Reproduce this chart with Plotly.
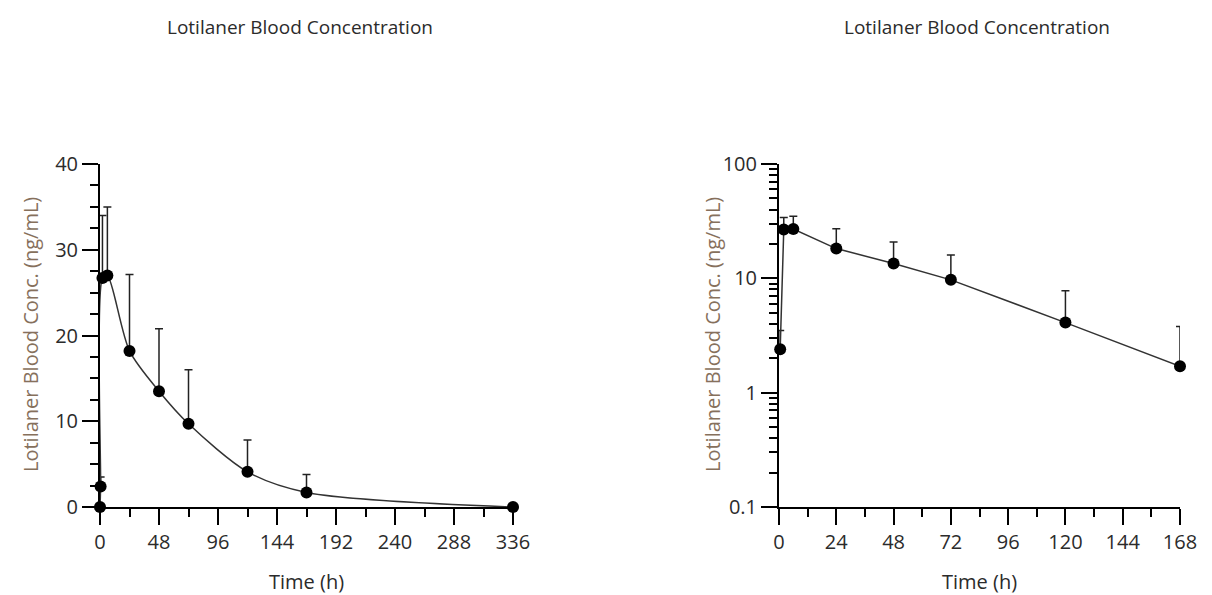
import plotly.graph_objects as go

# Data
time_h = [0, 0.5, 2, 6, 24, 48, 72, 120, 168, 336]
mean_conc = [0, 2.4, 26.7, 27.0, 18.2, 13.5, 9.7, 4.1, 1.7, 0]
sd_conc = [0, 1.1, 7.3, 8.0, 8.9, 7.3, 6.3, 3.7, 2.1, 0]

title_text = "Lotilaner Blood Concentration"
ytitle_text = "Lotilaner Blood Conc. (ng/mL)"
xtitle_text = "Time (h)"
left_xticks = [0, 48, 96, 144, 192, 240, 288, 336]
right_xticks = [0, 24, 48, 72, 96, 120, 144, 168]
log_yticks = [0.1, 1, 10, 100]
log_yticklabels = ["0.1", "1", "10", "100"]

FONT = "Open Sans"
TXT = "#2b2b2b"
YT = "#86705c"

# right-plot subset (log scale, 0-168 h, positive values)
r_t, r_m, r_s = [], [], []
for t, m, s in zip(time_h, mean_conc, sd_conc):
    if t <= 168 and m > 0:
        r_t.append(t); r_m.append(m); r_s.append(s)

fig = go.Figure()
fig.add_trace(go.Scatter(
    x=time_h, y=mean_conc, mode="lines+markers",
    line=dict(color="#333333", width=1.5, shape="spline", smoothing=0.8),
    marker=dict(color="black", size=12),
    error_y=dict(type="data", array=sd_conc, arrayminus=[0]*len(sd_conc),
                 symmetric=False, color="#222222", thickness=1.5, width=4),
    cliponaxis=False, xaxis="x", yaxis="y", showlegend=False))
fig.add_trace(go.Scatter(
    x=r_t, y=r_m, mode="lines+markers",
    line=dict(color="#333333", width=1.5),
    marker=dict(color="black", size=12),
    error_y=dict(type="data", array=r_s, arrayminus=[0]*len(r_s),
                 symmetric=False, color="#222222", thickness=1.5, width=4),
    cliponaxis=False, xaxis="x2", yaxis="y2", showlegend=False))

axis_common = dict(showline=True, linecolor="black", linewidth=2, showgrid=False,
                   zeroline=False, ticks="outside", tickcolor="black", tickwidth=1.5,
                   ticklen=16, automargin=False,
                   tickfont=dict(family=FONT, size=20, color=TXT))

ydom = [88/595, 431/595]
fig.update_layout(
    template="none",
    width=1212, height=595, margin=dict(l=0, r=0, t=0, b=0, pad=0, autoexpand=False),
    plot_bgcolor="white", paper_bgcolor="white",
    xaxis=dict(domain=[100/1212, 513/1212], range=[0, 336], tickvals=left_xticks,
               anchor="y", minor=dict(ticks="outside", dtick=24, tick0=0, ticklen=8,
                                      tickcolor="black", tickwidth=1.5),
               **axis_common),
    yaxis=dict(domain=ydom, range=[0, 40], dtick=10, tick0=0, anchor="x",
               minor=dict(ticks="outside", dtick=2.5, tick0=0, ticklen=8,
                          tickcolor="black", tickwidth=1.5),
               **axis_common),
    xaxis2=dict(domain=[779/1212, 1180/1212], range=[0, 168], tickvals=right_xticks,
                anchor="y2", minor=dict(ticks="outside", dtick=12, tick0=0, ticklen=8,
                                        tickcolor="black", tickwidth=1.5),
                **axis_common),
    yaxis2=dict(domain=ydom, type="log", range=[-1, 2], tickvals=log_yticks,
                ticktext=log_yticklabels, anchor="x2",
                minor=dict(ticks="outside", dtick="D1", ticklen=8,
                           tickcolor="black", tickwidth=1.5),
                **axis_common),
)

ann = []
for cx, ycx, xcx in [(300/1212, 30/1212, 306/1212), (977/1212, 712/1212, 979/1212)]:
    ann.append(dict(text=title_text, x=cx, y=1-27/595, xref="paper", yref="paper",
                    showarrow=False, xanchor="center", yanchor="middle",
                    font=dict(family=FONT, size=19, color=TXT)))
    ann.append(dict(text=ytitle_text, x=ycx, y=1-335/595, xref="paper", yref="paper",
                    showarrow=False, xanchor="center", yanchor="middle", textangle=-90,
                    font=dict(family=FONT, size=20, color=YT)))
    ann.append(dict(text=xtitle_text, x=xcx, y=1-581/595, xref="paper", yref="paper",
                    showarrow=False, xanchor="center", yanchor="middle",
                    font=dict(family=FONT, size=20, color=TXT)))
fig.update_layout(annotations=ann)

fig.write_html("out.html")
